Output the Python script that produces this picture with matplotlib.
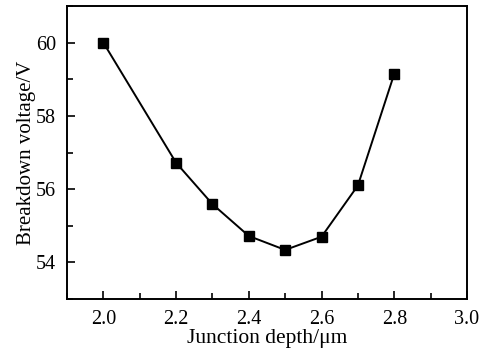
import matplotlib
matplotlib.use("Agg")
import matplotlib.pyplot as plt
from matplotlib.ticker import MultipleLocator

plt.rcParams['font.family'] = ['Liberation Serif', 'DejaVu Serif']

# junction depth (um) vs breakdown voltage (V)
depth = [2.0, 2.2, 2.3, 2.4, 2.5, 2.6, 2.7, 2.8]
voltage = [60.0, 56.72, 55.59, 54.72, 54.34, 54.70, 56.10, 59.15]

fig = plt.figure(figsize=(4.89, 3.52), dpi=100)
ax = fig.add_axes([67 / 489, 1 - 299 / 352, 400 / 489, 293 / 352])

ax.plot(depth, voltage, color='black', lw=1.4, marker='s', ms=7.8,
        mfc='black', mec='black')

ax.set_xlim(1.9, 3.0)
ax.set_ylim(53, 61)
ax.xaxis.set_major_locator(MultipleLocator(0.2))
ax.xaxis.set_minor_locator(MultipleLocator(0.1))
ax.yaxis.set_major_locator(MultipleLocator(2))
ax.yaxis.set_minor_locator(MultipleLocator(1))
ax.set_xticks([2.0, 2.2, 2.4, 2.6, 2.8, 3.0])
ax.set_xticklabels(['2.0', '2.2', '2.4', '2.6', '2.8', '3.0'])

ax.tick_params(which='both', direction='in', top=False, right=False,
               labelsize=14.5, width=1.2)
ax.tick_params(which='major', length=6, pad=8)
ax.tick_params(which='minor', length=4)
for s in ax.spines.values():
    s.set_linewidth(1.4)

ax.set_xlabel('Junction depth/\u03bcm', fontsize=15.5, labelpad=0)
ax.set_ylabel('Breakdown voltage/V', fontsize=15, labelpad=0)

fig.savefig('out.png', dpi=100)
